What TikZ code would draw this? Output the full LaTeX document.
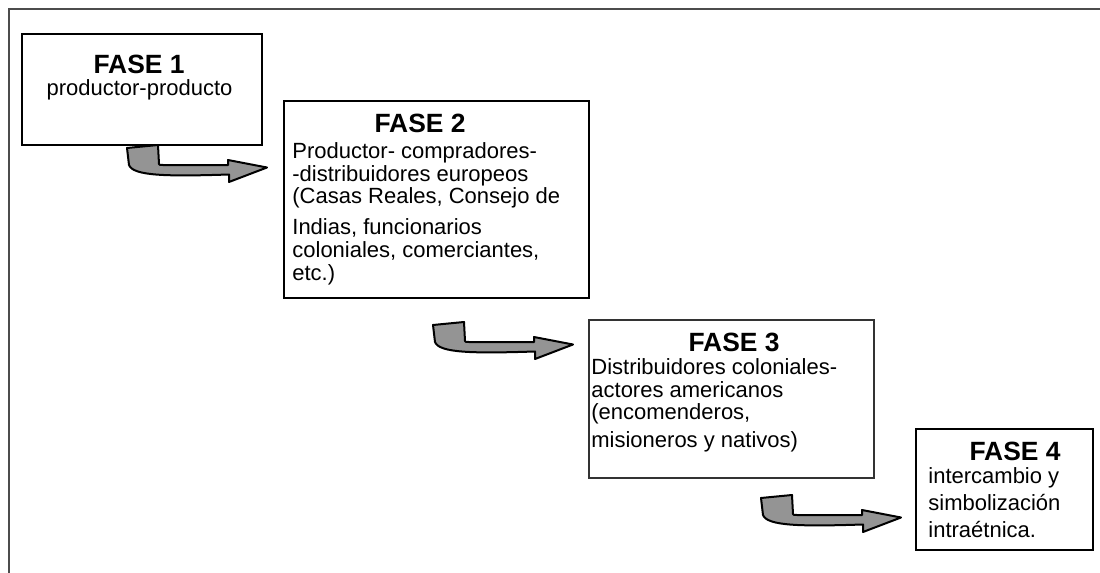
\documentclass[tikz,border=0pt]{standalone}
\usepackage{fontspec}
\setmainfont{Liberation Sans}
\usetikzlibrary{positioning}

\begin{document}
\begin{tikzpicture}[
    x=0.5pt, y=-0.5pt,
    fasebox/.style={
        rectangle, draw=black, line width=1pt,
        anchor=north west, inner sep=0pt
    },
    fasetitle/.style={
        anchor=base, inner sep=0pt,
        font=\fontsize{13.2}{15}\selectfont\bfseries
    },
    fasetext/.style={
        anchor=north west, inner sep=0pt, align=left,
        font=\fontsize{11}{11.4}\selectfont
    },
    hookarrow/.pic={
        \draw[line width=1pt, line join=round, fill=black!42]
            (0,0) -- (31,-3) -- (32,16) .. controls (32,17) and (33,17) .. (36,17)
            -- (101,17) -- (101,12) -- (140,19.5) -- (102,34) -- (102,26.5)
            .. controls (40,28.5) and (6,28) .. (2,17) -- cycle;
    }
]

\useasboundingbox (0,0) rectangle (1100,573);

\draw[black!70, line width=1.2pt] (1100,9) -- (9,9) -- (9,573);

\node[fasebox, minimum width=120pt, minimum height=55.5pt] (f1) at (21,33) {};
\node[fasebox, minimum width=152.5pt, minimum height=98.5pt] (f2) at (283,100) {};
\node[fasebox, draw=black!80, minimum width=142.5pt, minimum height=79pt] (f3) at (588,319) {};
\node[fasebox, minimum width=88.5pt, minimum height=60.5pt] (f4) at (915,428) {};

\node[fasetitle] (t1) at (139,73) {FASE 1};
\node[fasetitle] (t2) at (420,133) {FASE 2};
\node[fasetitle] (t3) at (734,351) {FASE 3};
\node[fasetitle] (t4) at (1015,460) {FASE 4};

\node[fasetext, anchor=base] (d1) at (139.5,96) {productor-producto};
\node[fasetext] (d2) at (292,142) {Productor- compradores-\\
    -distribuidores europeos\\
    (Casas Reales, Consejo de\\[4pt]
    Indias, funcionarios\\
    coloniales, comerciantes,\\
    etc.)};
\node[fasetext] (d3) at (591,358) {Distribuidores coloniales-\\
    actores americanos\\
    (encomenderos,\\[2.5pt]
    misioneros y nativos)};
\node[fasetext, font=\fontsize{11}{13.5}\selectfont] (d4) at (928,467) {intercambio y\\
    simbolización\\
    intraétnica.};

\pic at (127,148) {hookarrow};
\pic at (433,325) {hookarrow};
\pic at (761,498) {hookarrow};

\end{tikzpicture}
\end{document}
